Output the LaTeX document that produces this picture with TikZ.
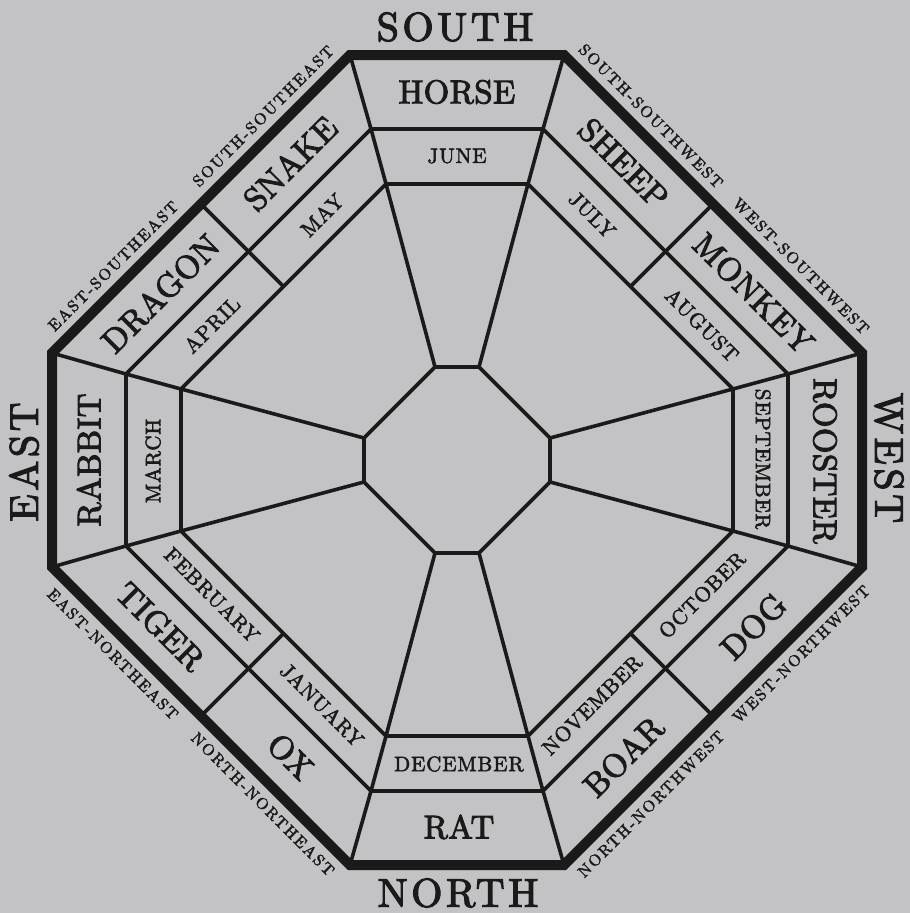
\documentclass[tikz,border=0pt]{standalone}
\usepackage{fontspec}
\newfontfamily\animfont{lmroman10-regular.otf}[LetterSpace=1,FakeBold=3]
\newfontfamily\monthfont{lmroman10-regular.otf}[LetterSpace=4,FakeBold=2.5]
\newfontfamily\compfont{lmroman10-regular.otf}[LetterSpace=9,FakeBold=3]
\newfontfamily\dirfont{lmroman10-regular.otf}[LetterSpace=13,FakeBold=2.5]
\definecolor{ink}{HTML}{1A1A1A}
\definecolor{bg}{HTML}{C3C3C6}
\begin{document}
\begin{tikzpicture}[x=1pt,y=-1pt,
  thinline/.style={line width=3.6pt, draw=ink, line join=round, line cap=round},
  outerline/.style={line width=10pt, draw=ink, line join=miter},
  animalbox/.style={inner sep=0pt, text=ink, font=\animfont\fontsize{33}{33}\selectfont},
  monthbox/.style={inner sep=0pt, text=ink, font=\monthfont\fontsize{21}{21}\selectfont},
  complabel/.style={inner sep=0pt, text=ink, font=\compfont\fontsize{40}{40}\selectfont},
  dirlabel/.style={inner sep=0pt, text=ink, font=\dirfont\fontsize{16}{16}\selectfont}]
\fill[bg] (0,0) rectangle (910,913);
\useasboundingbox (0,0) rectangle (910,913);
\begin{scope}[shift={(457,460)}]
% outer octagon vertices
\coordinate (O1) at (-107,-405); \coordinate (O2) at (107,-405);
\coordinate (O3) at (405,-107);  \coordinate (O4) at (405,107);
\coordinate (O5) at (107,405);   \coordinate (O6) at (-107,405);
\coordinate (O7) at (-405,107);  \coordinate (O8) at (-405,-107);
% animal band inner boundary
\coordinate (A1) at (-86,-331); \coordinate (A2) at (86,-331);
\coordinate (A3) at (331,-86);  \coordinate (A4) at (331,86);
\coordinate (A5) at (86,331);   \coordinate (A6) at (-86,331);
\coordinate (A7) at (-331,86);  \coordinate (A8) at (-331,-86);
% month band inner boundary
\coordinate (M1) at (-71,-276); \coordinate (M2) at (71,-276);
\coordinate (M3) at (276,-71);  \coordinate (M4) at (276,71);
\coordinate (M5) at (71,276);   \coordinate (M6) at (-71,276);
\coordinate (M7) at (-276,71);  \coordinate (M8) at (-276,-71);
% inner octagon
\coordinate (I1) at (-22,-93); \coordinate (I2) at (22,-93);
\coordinate (I3) at (93,-22);  \coordinate (I4) at (93,22);
\coordinate (I5) at (22,93);   \coordinate (I6) at (-22,93);
\coordinate (I7) at (-93,22);  \coordinate (I8) at (-93,-22);
% dividers on the diagonal sides
\coordinate (DOa) at (-256,-256); \coordinate (DIa) at (-173.5,-173.5);
\coordinate (DOb) at (256,-256);  \coordinate (DIb) at (173.5,-173.5);
\coordinate (DOc) at (256,256);   \coordinate (DIc) at (173.5,173.5);
\coordinate (DOd) at (-256,256);  \coordinate (DId) at (-173.5,173.5);

\draw[thinline] (A1)--(A2)--(A3)--(A4)--(A5)--(A6)--(A7)--(A8)--cycle;
\draw[thinline] (M1)--(M2)--(M3)--(M4)--(M5)--(M6)--(M7)--(M8)--cycle;
\draw[thinline] (I1)--(I2)--(I3)--(I4)--(I5)--(I6)--(I7)--(I8)--cycle;
\foreach \k in {1,...,8}{\draw[thinline] (I\k)--(M\k)--(A\k)--(O\k);}
\draw[thinline] (DOa)--(DIa);
\draw[thinline] (DOb)--(DIb);
\draw[thinline] (DOc)--(DIc);
\draw[thinline] (DOd)--(DId);
\draw[outerline] (O1)--(O2)--(O3)--(O4)--(O5)--(O6)--(O7)--(O8)--cycle;

% compass points
\node[complabel] (south) at (-2,-433) {SOUTH};
\node[complabel] (north) at (1,433) {NORTH};
\node[complabel, rotate=90] (east) at (-433,2) {EAST};
\node[complabel, rotate=-90] (west) at (432,-2) {WEST};

% intermediate directions
\node[dirlabel, rotate=45] (ese) at (-344,-194) {EAST-SOUTHEAST};
\node[dirlabel, rotate=45] (sse) at (-194,-344) {SOUTH-SOUTHEAST};
\node[dirlabel, rotate=-45] (ssw) at (194,-344) {SOUTH-SOUTHWEST};
\node[dirlabel, rotate=-45] (wsw) at (344,-194) {WEST-SOUTHWEST};
\node[dirlabel, rotate=-45] (ene) at (-344,194) {EAST-NORTHEAST};
\node[dirlabel, rotate=-45] (nne) at (-194,344) {NORTH-NORTHEAST};
\node[dirlabel, rotate=45] (nnw) at (194,344) {NORTH-NORTHWEST};
\node[dirlabel, rotate=45] (wnw) at (344,194) {WEST-NORTHWEST};

% axis sides
\node[animalbox] (horse) at (0,-368) {HORSE};
\node[monthbox] (june) at (0,-304) {JUNE};
\node[animalbox] (rat) at (2,367) {RAT};
\node[monthbox] (december) at (2,304) {DECEMBER};
\node[animalbox, rotate=90] (rabbit) at (-368,0) {RABBIT};
\node[monthbox, rotate=90] (march) at (-304,1) {MARCH};
\node[animalbox, rotate=-90] (rooster) at (368,1) {ROOSTER};
\node[monthbox, rotate=-90] (september) at (306,-1) {SEPTEMBER};

% diagonal sides
\node[animalbox, rotate=45] (dragon) at (-296.5,-166.5) {DRAGON};
\node[animalbox, rotate=45] (snake) at (-166.5,-296.5) {SNAKE};
\node[monthbox, rotate=45] (april) at (-245,-135) {APRIL};
\node[monthbox, rotate=45] (may) at (-135,-245) {MAY};

\node[animalbox, rotate=-45] (sheep) at (166.5,-296.5) {SHEEP};
\node[animalbox, rotate=-45] (monkey) at (296.5,-166.5) {MONKEY};
\node[monthbox, rotate=-45] (july) at (135,-245) {JULY};
\node[monthbox, rotate=-45] (august) at (245,-135) {AUGUST};

\node[animalbox, rotate=-45] (tiger) at (-296.5,166.5) {TIGER};
\node[animalbox, rotate=-45] (ox) at (-166.5,296.5) {OX};
\node[monthbox, rotate=-45] (february) at (-245,135) {FEBRUARY};
\node[monthbox, rotate=-45] (january) at (-135,245) {JANUARY};

\node[animalbox, rotate=45] (boar) at (166.5,296.5) {BOAR};
\node[animalbox, rotate=45] (dog) at (296.5,166.5) {DOG};
\node[monthbox, rotate=45] (november) at (135,245) {NOVEMBER};
\node[monthbox, rotate=45] (october) at (245,135) {OCTOBER};
\end{scope}
\end{tikzpicture}
\end{document}
